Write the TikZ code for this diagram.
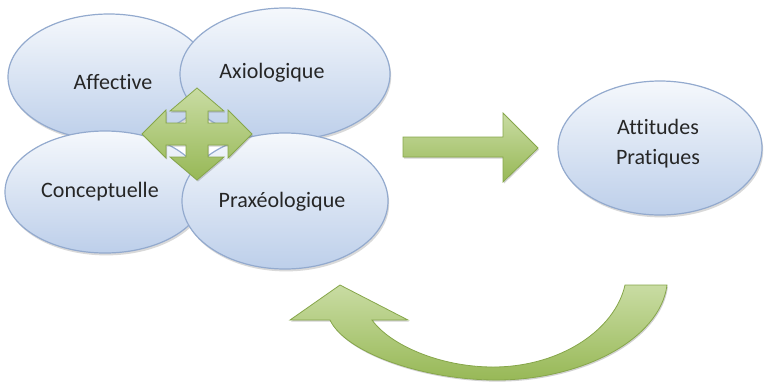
\documentclass[tikz,border=0pt]{standalone}
\usepackage{fontspec}
\setmainfont[Ligatures={NoCommon,NoRare}]{Carlito}
\usetikzlibrary{shapes.geometric,shadows}

\definecolor{ellTop}{HTML}{F5F8FC}
\definecolor{ellBot}{HTML}{BDCFEA}
\definecolor{ellEdge}{HTML}{93AACE}
\definecolor{arrTop}{HTML}{C9DCA3}
\definecolor{arrBot}{HTML}{97B856}
\definecolor{arrEdge}{HTML}{86A64A}
\definecolor{txtGray}{HTML}{262626}

\tikzset{
  bubble/.style={ellipse, draw=ellEdge, line width=0.6pt, top color=ellTop,
    bottom color=ellBot, inner sep=0pt,
    drop shadow={shadow xshift=0.6pt, shadow yshift=-1.2pt, opacity=0.25, fill=black!60}},
  bubbletext/.style={text=txtGray, font=\fontsize{11}{15}\selectfont, align=center, inner sep=0pt},
  greenarrow/.style={top color=arrTop, bottom color=arrBot, draw=arrEdge, line width=0.4pt,
    drop shadow={shadow xshift=0.5pt, shadow yshift=-0.8pt, opacity=0.3, fill=black!60}},
}

\begin{document}
\begin{tikzpicture}[x=0.5pt,y=-0.5pt]
\useasboundingbox (0,0) rectangle (764,381);

% the four dimensions
\node[bubble, minimum width=101pt, minimum height=63pt] (affective) at (109,77) {};
\node[bubble, minimum width=105pt, minimum height=66pt] (axiologique) at (285,74) {};
\node[bubble, minimum width=100pt, minimum height=61pt] (conceptuelle) at (105,192) {};
\node[bubble, minimum width=103pt, minimum height=68pt] (praxeologique) at (285,201) {};

\node[bubbletext] (affectiveLbl) at (113,82) {Affective};
\node[bubbletext] (axiologiqueLbl) at (272,73) {Axiologique};
\node[bubbletext] (conceptuelleLbl) at (100,192) {Conceptuelle};
\node[bubbletext] (praxeologiqueLbl) at (282,202) {Praxéologique};

% four-way arrow
\begin{scope}[shift={(197,134)}]
\path[greenarrow] (0,-46) -- (27,-23) -- (11,-23) -- (11,-11) -- (31,-11) -- (31,-24)
  -- (55,0) -- (31,24) -- (31,11) -- (11,11) -- (11,23) -- (27,23) -- (0,46)
  -- (-27,23) -- (-11,23) -- (-11,11) -- (-31,11) -- (-31,24) -- (-55,0)
  -- (-31,-24) -- (-31,-11) -- (-11,-11) -- (-11,-23) -- (-27,-23) -- cycle;
\end{scope}

% result
\node[bubble, minimum width=102pt, minimum height=67pt] (attitudes) at (660,148) {};
\node[bubbletext] (attitudesLbl) at (658,144) {Attitudes\\Pratiques};

\path[greenarrow] (403,137) -- (503,137) -- (503,113) -- (538,148) -- (503,182)
  -- (503,157) -- (403,157) -- cycle;

% feedback arrow
\path[greenarrow] (625,285) -- (667,285)
  .. controls (660,340) and (580,381) .. (493,380)
  .. controls (420,379) and (345,352) .. (330,320)
  -- (290,320) -- (340,285) -- (408,320) -- (372,320)
  .. controls (390,345) and (440,367) .. (493,367)
  .. controls (560,367) and (615,330) .. (625,285) -- cycle;
\end{tikzpicture}
\end{document}
